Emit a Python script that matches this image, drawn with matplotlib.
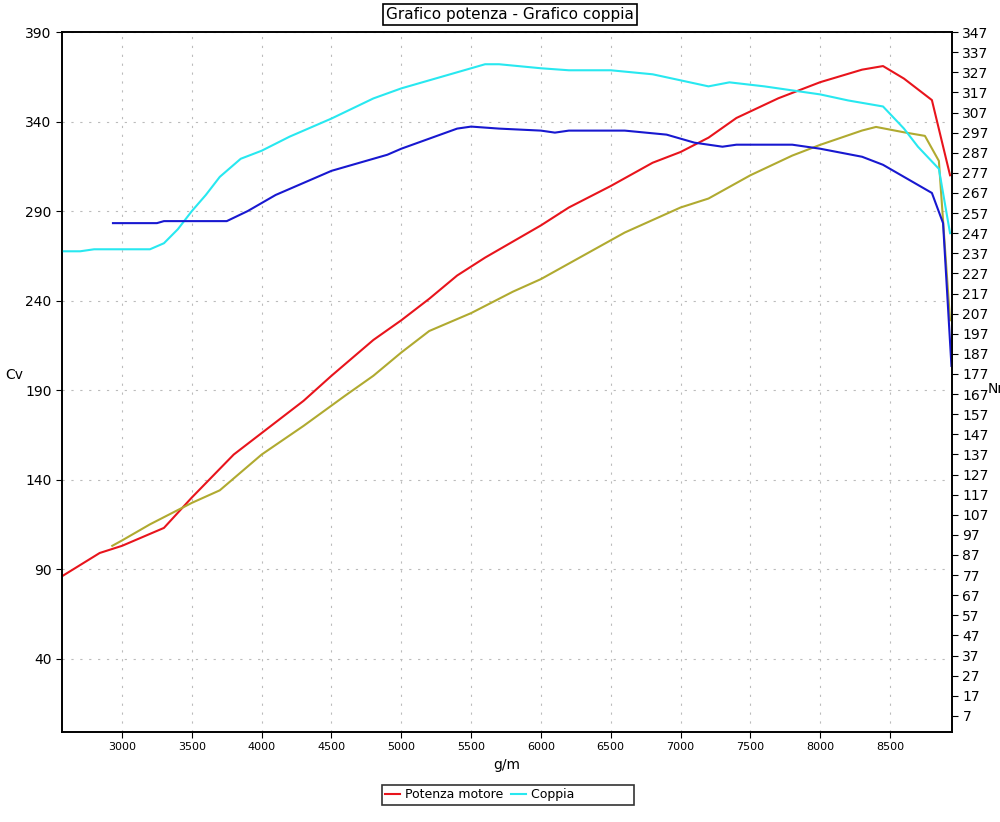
import matplotlib
matplotlib.use("Agg")
import matplotlib.pyplot as plt
import numpy as np

# Potenza motore (Cv, left axis)
rpm_pot = [2570, 2840, 3000, 3270, 3300, 3500, 3800, 4000, 4300, 4500, 4800, 5000, 5200, 5400,
           5600, 5800, 6000, 6200, 6500, 6800, 7000, 7200, 7400, 7700, 8000, 8300, 8450,
           8600, 8800, 8930]
pot = [86, 99, 103, 112, 113, 130, 154, 166, 184, 198, 218, 229, 241, 254,
       264, 273, 282, 292, 304, 317, 323, 331, 342, 353, 362, 369, 371,
       364, 352, 310]

# second power curve (olive, left axis)
rpm_pot2 = [2930, 3000, 3200, 3500, 3700, 4000, 4300, 4600, 4800, 5000, 5200, 5500, 5800, 6000,
            6300, 6600, 6800, 7000, 7200, 7500, 7800, 8000, 8300, 8400, 8600, 8750, 8850, 8930]
pot2 = [103, 106, 115, 127, 134, 154, 170, 187, 198, 211, 223, 233, 245, 252,
        265, 278, 285, 292, 297, 310, 321, 327, 335, 337, 334, 332, 318, 229]

# Coppia (Nm, right axis)
rpm_cop = [2570, 2700, 2800, 3200, 3300, 3400, 3500, 3600, 3700, 3850, 4000, 4200, 4500, 4800,
           5000, 5300, 5600, 5700, 6000, 6200, 6500, 6800, 7000, 7200, 7350, 7600, 7800,
           8000, 8200, 8450, 8600, 8700, 8850, 8930]
cop = [238, 238, 239, 239, 242, 249, 258, 266, 275, 284, 288, 295, 304, 314,
       319, 325, 331, 331, 329, 328, 328, 326, 323, 320, 322, 320, 318,
       316, 313, 310, 299, 290, 279, 247]

# second torque curve (blue, right axis)
rpm_cop2 = [2935, 3250, 3300, 3750, 3900, 4100, 4300, 4500, 4800, 4900, 5000, 5200, 5400, 5500,
            5700, 6000, 6100, 6200, 6300, 6600, 6900, 7100, 7300, 7400, 7800, 8000, 8300,
            8450, 8600, 8800, 8880, 8940]
cop2 = [252, 252, 253, 253, 258, 266, 272, 278, 284, 286, 289, 294, 299, 300,
        299, 298, 297, 298, 298, 298, 296, 292, 290, 291, 291, 289, 285,
        281, 275, 267, 252, 181]

fig = plt.figure(figsize=(10, 8.22), dpi=100)
ax = fig.add_axes([0.062, 0.1095, 0.89, 0.8515])
ax2 = ax.twinx()

ax.plot(rpm_pot, pot, color="#e8141c", lw=1.5, label="Potenza motore")
ax.plot(rpm_pot2, pot2, color="#b0aa30", lw=1.5)
ax2.plot(rpm_cop, cop, color="#28e8f0", lw=1.5, label="Coppia")
ax2.plot(rpm_cop2, cop2, color="#1818d0", lw=1.5)

ax.set_xlim(2570, 8944)
ax.set_ylim(-1, 390)
ax2.set_ylim(-1, 347)
ax.set_xticks(range(3000, 9000, 500))
ax.set_yticks(range(40, 391, 50))
ax2.set_yticks(range(7, 348, 10))
ax.tick_params(axis="x", labelsize=8, direction="out", length=4)
ax.tick_params(axis="y", labelsize=10, direction="out", length=4)
ax2.tick_params(axis="y", labelsize=10, direction="out", length=4)
ax.grid(True, color="#bbbbbb", linestyle=(0, (2, 6)), lw=0.8)
for a in (ax, ax2):
    for s in a.spines.values():
        s.set_linewidth(1.2)

ax.set_xlabel("g/m", fontsize=10)
ax.set_ylabel("Cv", fontsize=10, rotation=0, labelpad=8)
ax2.set_ylabel("Nm", fontsize=10, rotation=0, labelpad=8)

fig.text(0.51, 0.982, "Grafico potenza - Grafico coppia", ha="center", va="center", fontsize=11,
         bbox=dict(boxstyle="square,pad=0.2", fc="white", ec="black", lw=1.2))

h1, l1 = ax.get_legend_handles_labels()
h2, l2 = ax2.get_legend_handles_labels()
leg = fig.legend(h1 + h2, l1 + l2, loc="center", bbox_to_anchor=(0.508, 0.033), ncol=2,
                 fontsize=9, frameon=True, fancybox=False, handlelength=1.2,
                 borderpad=0.3, columnspacing=0.6, handletextpad=0.4, borderaxespad=0)
leg.get_frame().set_edgecolor("black")
leg.get_frame().set_linewidth(1.2)
# widen the frame like the reference (text stays left)
for t in leg.get_texts()[-1:]:
    t.set_text("Coppia" + " " * 14)

fig.savefig("out.png", dpi=100)
